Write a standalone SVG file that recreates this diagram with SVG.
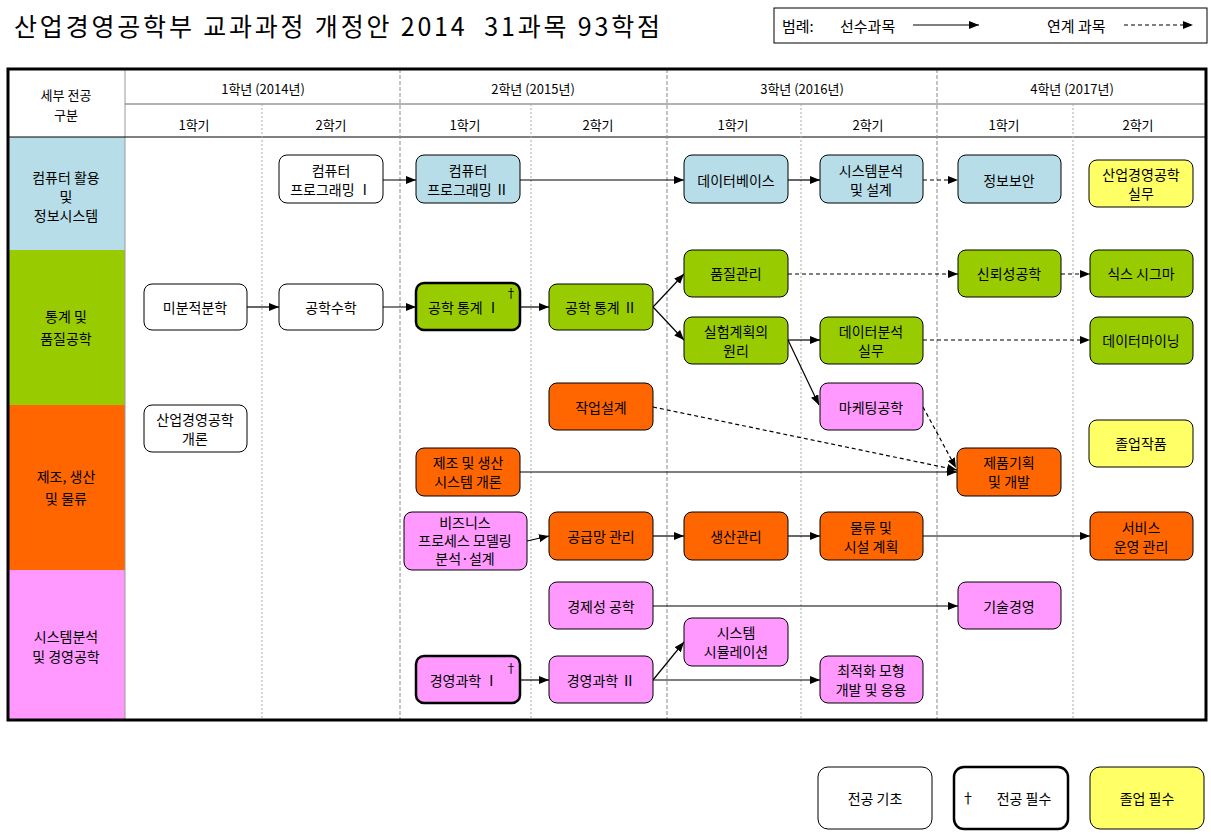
<svg xmlns="http://www.w3.org/2000/svg" width="1211" height="835" viewBox="0 0 1211 835">
<style>
text{font-family:"Noto Sans CJK KR","Liberation Sans",sans-serif;fill:#000;text-anchor:middle;dominant-baseline:central}
.t{font-size:14px}
.h{font-size:13px}
.cat{font-size:14px}
.n rect{stroke:#000;stroke-width:1}
.req rect{stroke-width:2.5}
.w{fill:#fff}.b{fill:#b7dee8}.g{fill:#99cc00}.o{fill:#ff6600}.p{fill:#ff99ff}.y{fill:#ffff66}
.s{stroke:#000;stroke-width:1.2;fill:none;marker-end:url(#ah)}
.d{stroke:#000;stroke-width:1.2;fill:none;stroke-dasharray:4 3;marker-end:url(#ah)}
.yr{stroke:#888;stroke-width:1;stroke-dasharray:4 2}
.sm{stroke:#aaa;stroke-width:1;stroke-dasharray:2 2}
.dag{font-size:12px}
</style>
<defs>
<marker id="ah" viewBox="0 0 10 8" refX="10" refY="4" markerWidth="10" markerHeight="8" markerUnits="userSpaceOnUse" orient="auto">
<path d="M0,0 L10,4 L0,8 z" fill="#000"/>
</marker>
</defs>
<rect width="1211" height="835" fill="#fff"/>
<text x="14" y="25" xml:space="preserve" textLength="646" lengthAdjust="spacing" style="font-size:25px;text-anchor:start">산업경영공학부 교과과정 개정안 2014  31과목 93학점</text>
<g id="legend-top">
<rect x="774" y="8" width="433" height="35" fill="#fff" stroke="#000" stroke-width="1"/>
<text x="782" y="25" style="font-size:15px;text-anchor:start">범례:</text>
<text x="840" y="25" style="font-size:15px;text-anchor:start">선수과목</text>
<line x1="913" y1="25" x2="979" y2="25" class="s"/>
<text x="1047" y="25" style="font-size:15px;text-anchor:start">연계 과목</text>
<line x1="1124" y1="25" x2="1193" y2="25" class="d"/>
</g>
<g id="grid">
<rect x="9" y="137" width="116" height="113" fill="#b7dee8"/>
<rect x="9" y="250" width="116" height="155" fill="#99cc00"/>
<rect x="9" y="405" width="116" height="165" fill="#ff6600"/>
<rect x="9" y="570" width="116" height="150" fill="#ff99ff"/>
<line x1="125" y1="69" x2="125" y2="720" stroke="#999" stroke-width="1"/>
<line x1="125" y1="104" x2="1207" y2="104" stroke="#666" stroke-width="1"/>
<line x1="8" y1="137" x2="1207" y2="137" stroke="#000" stroke-width="1"/>
<line class="yr" x1="400" y1="69" x2="400" y2="720"/>
<line class="yr" x1="667" y1="69" x2="667" y2="720"/>
<line class="yr" x1="937" y1="69" x2="937" y2="720"/>
<line class="sm" x1="262" y1="104" x2="262" y2="720"/>
<line class="sm" x1="531" y1="104" x2="531" y2="720"/>
<line class="sm" x1="801" y1="104" x2="801" y2="720"/>
<line class="sm" x1="1073" y1="104" x2="1073" y2="720"/>
<rect x="8" y="69" width="1198" height="651" fill="none" stroke="#000" stroke-width="3"/>
<text class="h" x="66" y="94">세부 전공</text>
<text class="h" x="66" y="114">구분</text>
<text class="h" x="263" y="88">1학년 (2014년)</text>
<text class="h" x="533" y="88">2학년 (2015년)</text>
<text class="h" x="802" y="88">3학년 (2016년)</text>
<text class="h" x="1072" y="88">4학년 (2017년)</text>
<text class="h" x="194" y="124">1학기</text>
<text class="h" x="331" y="124">2학기</text>
<text class="h" x="465" y="124">1학기</text>
<text class="h" x="598" y="124">2학기</text>
<text class="h" x="733" y="124">1학기</text>
<text class="h" x="868" y="124">2학기</text>
<text class="h" x="1004" y="124">1학기</text>
<text class="h" x="1138" y="124">2학기</text>
<text class="cat" x="66" y="177">컴퓨터 활용</text>
<text class="cat" x="66" y="196">및</text>
<text class="cat" x="66" y="215">정보시스템</text>
<text class="cat" x="66" y="316">통계 및</text>
<text class="cat" x="66" y="338">품질공학</text>
<text class="cat" x="66" y="476">제조, 생산</text>
<text class="cat" x="66" y="498">및 물류</text>
<text class="cat" x="66" y="636">시스템분석</text>
<text class="cat" x="66" y="656">및 경영공학</text>
</g>
<g id="connectors">
<line class="s" x1="383" y1="180" x2="416" y2="180"/>
<line class="s" x1="520" y1="180" x2="684" y2="180"/>
<line class="s" x1="788" y1="180" x2="820" y2="180"/>
<line class="d" x1="923" y1="180" x2="958" y2="180"/>
<line class="s" x1="247" y1="307" x2="279" y2="307"/>
<line class="s" x1="383" y1="307" x2="416" y2="307"/>
<line class="s" x1="520" y1="307" x2="549" y2="307"/>
<line class="s" x1="653" y1="307" x2="684" y2="274"/>
<line class="s" x1="653" y1="307" x2="684" y2="340"/>
<line class="d" x1="788" y1="274" x2="958" y2="274"/>
<line class="d" x1="1061" y1="274" x2="1090" y2="274"/>
<line class="s" x1="788" y1="340" x2="820" y2="340"/>
<line class="s" x1="788" y1="340" x2="819" y2="405"/>
<line class="d" x1="923" y1="340" x2="1090" y2="340"/>
<line class="d" x1="653" y1="407" x2="957" y2="470"/>
<line class="d" x1="923" y1="407" x2="956" y2="468"/>
<line class="s" x1="520" y1="472" x2="957" y2="472"/>
<line class="s" x1="527" y1="541" x2="549" y2="536"/>
<line class="s" x1="653" y1="536" x2="684" y2="536"/>
<line class="s" x1="788" y1="536" x2="820" y2="536"/>
<line class="s" x1="923" y1="536" x2="1090" y2="536"/>
<line class="s" x1="653" y1="606" x2="958" y2="606"/>
<line class="s" x1="520" y1="680" x2="549" y2="680"/>
<line class="s" x1="653" y1="680" x2="684" y2="642"/>
<line class="s" x1="653" y1="680" x2="820" y2="680"/>
</g>
<g id="n-prog1" class="n"><rect class="w" x="279" y="155" width="104" height="48" rx="8"/><text class="t" x="331" y="170">컴퓨터</text><text class="t" x="331" y="189">프로그래밍 Ⅰ</text></g>
<g id="n-prog2" class="n"><rect class="b" x="416" y="155" width="104" height="48" rx="8"/><text class="t" x="468" y="170">컴퓨터</text><text class="t" x="468" y="189">프로그래밍 Ⅱ</text></g>
<g id="n-db" class="n"><rect class="b" x="684" y="155" width="104" height="48" rx="8"/><text class="t" x="736" y="180">데이터베이스</text></g>
<g id="n-sad" class="n"><rect class="b" x="820" y="155" width="103" height="48" rx="8"/><text class="t" x="871" y="170">시스템분석</text><text class="t" x="871" y="189">및 설계</text></g>
<g id="n-sec" class="n"><rect class="b" x="958" y="155" width="103" height="48" rx="8"/><text class="t" x="1009" y="180">정보보안</text></g>
<g id="n-prac" class="n"><rect class="y" x="1089" y="160" width="104" height="47" rx="8"/><text class="t" x="1141" y="174">산업경영공학</text><text class="t" x="1141" y="193">실무</text></g>
<g id="n-qc" class="n"><rect class="g" x="684" y="250" width="104" height="47" rx="8"/><text class="t" x="736" y="273">품질관리</text></g>
<g id="n-rel" class="n"><rect class="g" x="958" y="250" width="103" height="47" rx="8"/><text class="t" x="1009" y="273">신뢰성공학</text></g>
<g id="n-six" class="n"><rect class="g" x="1090" y="250" width="103" height="47" rx="8"/><text class="t" x="1141" y="273">식스 시그마</text></g>
<g id="n-calc" class="n"><rect class="w" x="144" y="284" width="103" height="46" rx="8"/><text class="t" x="195" y="307">미분적분학</text></g>
<g id="n-emath" class="n"><rect class="w" x="279" y="284" width="104" height="46" rx="8"/><text class="t" x="331" y="307">공학수학</text></g>
<g id="n-stat1" class="n req"><rect class="g" x="416" y="283" width="104" height="47" rx="8"/><text class="t" x="464" y="307">공학 통계 Ⅰ</text><text class="dag" x="511" y="292">†</text></g>
<g id="n-stat2" class="n"><rect class="g" x="549" y="284" width="104" height="46" rx="8"/><text class="t" x="601" y="307">공학 통계 Ⅱ</text></g>
<g id="n-doe" class="n"><rect class="g" x="684" y="317" width="104" height="47" rx="8"/><text class="t" x="736" y="331">실험계획의</text><text class="t" x="736" y="350">원리</text></g>
<g id="n-dap" class="n"><rect class="g" x="820" y="317" width="103" height="47" rx="8"/><text class="t" x="871" y="331">데이터분석</text><text class="t" x="871" y="350">실무</text></g>
<g id="n-dm" class="n"><rect class="g" x="1090" y="317" width="103" height="47" rx="8"/><text class="t" x="1141" y="340">데이터마이닝</text></g>
<g id="n-intro" class="n"><rect class="w" x="144" y="405" width="103" height="47" rx="8"/><text class="t" x="195" y="419">산업경영공학</text><text class="t" x="195" y="438">개론</text></g>
<g id="n-work" class="n"><rect class="o" x="549" y="383" width="104" height="47" rx="8"/><text class="t" x="601" y="407">작업설계</text></g>
<g id="n-mkt" class="n"><rect class="p" x="820" y="383" width="103" height="47" rx="8"/><text class="t" x="871" y="407">마케팅공학</text></g>
<g id="n-cap" class="n"><rect class="y" x="1089" y="420" width="104" height="47" rx="8"/><text class="t" x="1141" y="443">졸업작품</text></g>
<g id="n-mfg" class="n"><rect class="o" x="416" y="448" width="104" height="48" rx="8"/><text class="t" x="468" y="462">제조 및 생산</text><text class="t" x="468" y="481">시스템 개론</text></g>
<g id="n-pd" class="n"><rect class="o" x="957" y="448" width="104" height="48" rx="8"/><text class="t" x="1009" y="462">제품기획</text><text class="t" x="1009" y="481">및 개발</text></g>
<g id="n-bpm" class="n"><rect class="p" x="404" y="512" width="123" height="58" rx="8"/><text class="t" x="465" y="522">비즈니스</text><text class="t" x="465" y="540">프로세스 모델링</text><text class="t" x="465" y="558">분석·설계</text></g>
<g id="n-scm" class="n"><rect class="o" x="549" y="512" width="104" height="48" rx="8"/><text class="t" x="601" y="536">공급망 관리</text></g>
<g id="n-pm" class="n"><rect class="o" x="684" y="512" width="104" height="48" rx="8"/><text class="t" x="736" y="536">생산관리</text></g>
<g id="n-log" class="n"><rect class="o" x="820" y="512" width="103" height="48" rx="8"/><text class="t" x="871" y="527">물류 및</text><text class="t" x="871" y="546">시설 계획</text></g>
<g id="n-som" class="n"><rect class="o" x="1090" y="512" width="103" height="48" rx="8"/><text class="t" x="1141" y="527">서비스</text><text class="t" x="1141" y="546">운영 관리</text></g>
<g id="n-econ" class="n"><rect class="p" x="549" y="582" width="104" height="47" rx="8"/><text class="t" x="601" y="606">경제성 공학</text></g>
<g id="n-tm" class="n"><rect class="p" x="958" y="582" width="103" height="47" rx="8"/><text class="t" x="1009" y="606">기술경영</text></g>
<g id="n-sim" class="n"><rect class="p" x="684" y="618" width="104" height="48" rx="8"/><text class="t" x="736" y="632">시스템</text><text class="t" x="736" y="651">시뮬레이션</text></g>
<g id="n-ms1" class="n req"><rect class="p" x="416" y="656" width="104" height="47" rx="8"/><text class="t" x="464" y="680">경영과학 Ⅰ</text><text class="dag" x="511" y="667">†</text></g>
<g id="n-ms2" class="n"><rect class="p" x="549" y="656" width="104" height="47" rx="8"/><text class="t" x="601" y="680">경영과학 Ⅱ</text></g>
<g id="n-opt" class="n"><rect class="p" x="820" y="656" width="103" height="47" rx="8"/><text class="t" x="871" y="670">최적화 모형</text><text class="t" x="871" y="689">개발 및 응용</text></g>
<g id="legend-bottom">
<g id="lg-basic" class="n"><rect class="w" x="818" y="767" width="114" height="62" rx="10"/><text class="t" x="875" y="798">전공 기초</text></g>
<g id="lg-req" class="n req"><rect class="w" x="954" y="767" width="114" height="62" rx="10"/><text class="t" x="968" y="797">†</text><text class="t" x="1024" y="798">전공 필수</text></g>
<g id="lg-grad" class="n"><rect class="y" x="1090" y="767" width="114" height="62" rx="10"/><text class="t" x="1147" y="798">졸업 필수</text></g>
</g>
</svg>
